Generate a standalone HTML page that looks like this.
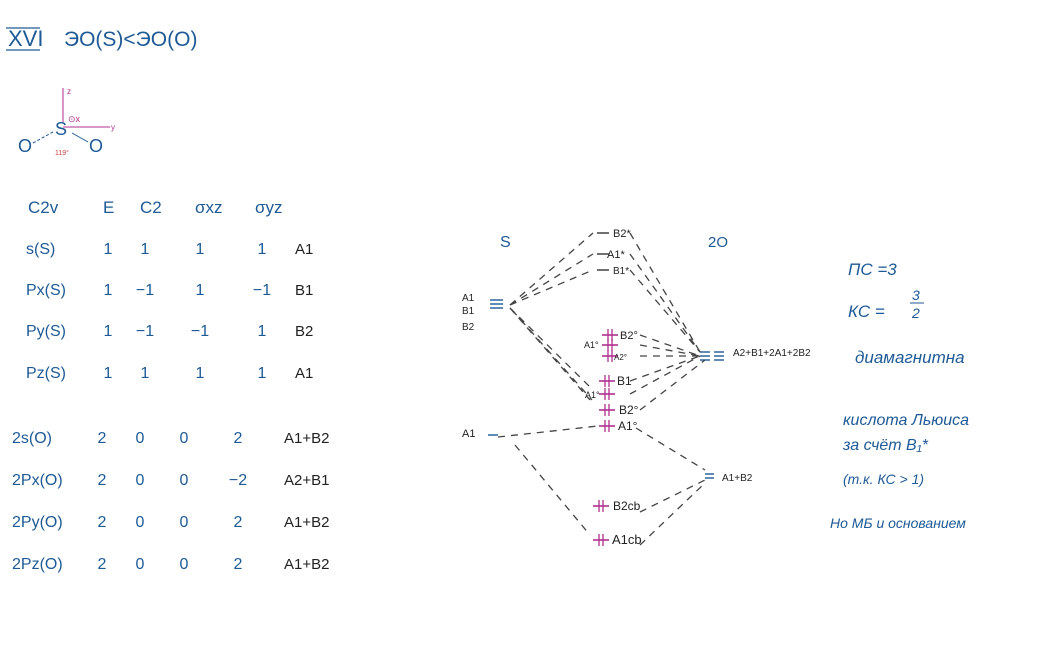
<!DOCTYPE html>
<html><head><meta charset="utf-8"><style>
html,body{margin:0;padding:0;background:#fff;}
svg{display:block;}
text{font-family:"Liberation Sans","DejaVu Sans",sans-serif;}
.b{fill:#1d5a96;}
.k{fill:#222;}
.m{fill:#b0308f;}
.d{stroke:#444;stroke-width:1.3;stroke-dasharray:7,6;fill:none;}
</style></head><body>
<svg id="s" width="1055" height="647" viewBox="0 0 1055 647" xmlns="http://www.w3.org/2000/svg">
<g>
<text x="8" y="46" class="b" font-size="22">XVI</text>
<line x1="6" y1="28" x2="40" y2="28" stroke="#1d5a96" stroke-width="1.3"/>
<line x1="6" y1="50" x2="40" y2="50" stroke="#1d5a96" stroke-width="1.3"/>
<text x="64" y="46" class="b" font-size="21">ЭO(S)&lt;ЭO(O)</text>
</g>
<g>
<line x1="63" y1="122" x2="63" y2="88" stroke="#b0308f" stroke-width="1"/>
<text x="67" y="94" class="m" font-size="8">z</text>
<line x1="63" y1="127" x2="110" y2="127" stroke="#b0308f" stroke-width="1"/>
<text x="111" y="130" class="m" font-size="8">y</text>
<text x="68" y="122" class="m" font-size="9">⊙x</text>
<text x="55" y="135" class="b" font-size="18">S</text>
<text x="18" y="152" class="b" font-size="18">O</text>
<text x="89" y="152" class="b" font-size="18">O</text>
<line x1="33" y1="143" x2="53" y2="132" stroke="#1d5a96" stroke-width="1" stroke-dasharray="3,2"/>
<line x1="72" y1="133" x2="88" y2="142" stroke="#1d5a96" stroke-width="1"/>
<text x="55" y="155" fill="#d04040" font-size="7">119°</text>
</g>
<g id="tbl"></g>
<g id="mo"></g>
<g font-style="italic">
<text x="848" y="275" class="b" font-size="17">ПС =3</text>
<text x="848" y="317" class="b" font-size="17">КС =</text>
<text x="912" y="300" class="b" font-size="14">3</text>
<line x1="910" y1="303" x2="924" y2="303" stroke="#1d5a96"/>
<text x="912" y="318" class="b" font-size="14">2</text>
<text x="855" y="363" class="b" font-size="17">диамагнитна</text>
<text x="843" y="425" class="b" font-size="16">кислота Льюиса</text>
<text x="843" y="450" class="b" font-size="16">за счёт  B₁*</text>
<text x="843" y="484" class="b" font-size="14">(т.к. КС &gt; 1)</text>
<text x="830" y="528" class="b" font-size="14">Но МБ и основанием</text>
</g>
</svg>
<script>
const NS="http://www.w3.org/2000/svg";
const headers=["C2v","E","C2","σxz","σyz"];
const sRows=["s(S)","Px(S)","Py(S)","Pz(S)"];
const sVals=[["1","1","1","1"],["1","−1","1","−1"],["1","−1","−1","1"],["1","1","1","1"]];
const sIrr=["A1","B1","B2","A1"];
const oRows=["2s(O)","2Px(O)","2Py(O)","2Pz(O)"];
const oVals=[["2","0","0","2"],["2","0","0","−2"],["2","0","0","2"],["2","0","0","2"]];
const oIrr=["A1+B2","A2+B1","A1+B2","A1+B2"];
function t(g,x,y,s,cls,fs,anchor){const e=document.createElementNS(NS,"text");e.setAttribute("x",x);e.setAttribute("y",y);e.setAttribute("class",cls);e.setAttribute("font-size",fs);if(anchor)e.setAttribute("text-anchor",anchor);e.textContent=s;g.appendChild(e);return e;}
const tb=document.getElementById("tbl");
const hx=[28,103,140,195,255];
headers.forEach((h,i)=>{const e=t(tb,hx[i],213,h,"b",17);

});
const sx=[108,145,200,262],sy=[254,295,336,378];
sRows.forEach((r,i)=>{t(tb,26,sy[i],r,"b",16);sVals[i].forEach((v,j)=>t(tb,sx[j],sy[i],v,"b",16,"middle"));t(tb,295,sy[i],sIrr[i],"k",15);});
const ox=[102,140,184,238],oy=[443,485,527,569];
oRows.forEach((r,i)=>{t(tb,12,oy[i],r,"b",16);oVals[i].forEach((v,j)=>t(tb,ox[j],oy[i],v,"b",16,"middle"));t(tb,284,oy[i],oIrr[i],"k",15);});
const mo=document.getElementById("mo");
t(mo,500,247,"S","b",16);t(mo,708,247,"2O","b",15);
t(mo,462,301,"A1","k",10);t(mo,462,314,"B1","k",10);t(mo,462,330,"B2","k",10);
t(mo,462,437,"A1","k",11);
function ln(x1,y1,x2,y2,c,w){const e=document.createElementNS(NS,"line");e.setAttribute("x1",x1);e.setAttribute("y1",y1);e.setAttribute("x2",x2);e.setAttribute("y2",y2);e.setAttribute("stroke",c);e.setAttribute("stroke-width",w||1.4);mo.appendChild(e);}
[300,304,308].forEach(y=>ln(490,y,503,y,"#1d5a96"));
ln(488,435,498,435,"#1d5a96");
[352,356,360].forEach(y=>{ln(700,y,710,y,"#1d5a96");ln(714,y,724,y,"#1d5a96");});
[474,478].forEach(y=>ln(705,y,714,y,"#1d5a96"));
t(mo,733,356,"A2+B1+2A1+2B2","k",10);t(mo,722,481,"A1+B2","k",10);
// [label, x, y, labelX, filled, fontSize]
const lv=[["B2*",597,233,613,false,11],["A1*",597,254,607,false,11],["B1*",597,270,613,false,10],["B2°",602,335,620,true,11],["",602,345,null,true,9],["A2°",602,356,614,true,8],["B1",599,381,617,true,12],["",599,394,null,true,9],["B2°",599,410,619,true,12],["A1°",599,426,618,true,12],["B2cb",593,506,613,true,12],["A1cb",593,540,612,true,13]];
lv.forEach(l=>{if(l[4]){ln(l[1],l[2],l[1]+16,l[2],"#b0308f",1.6);ln(l[1]+6,l[2]-6,l[1]+6,l[2]+6,"#b0308f",1.3);ln(l[1]+10,l[2]-6,l[1]+10,l[2]+6,"#b0308f",1.3);}else ln(l[1],l[2],l[1]+12,l[2],"#333",1.4);if(l[3])t(mo,l[3],l[2]+4,l[0],"k",l[5]);});
t(mo,584,348,"A1°","k",9);t(mo,585,398,"A1°","k",9);
function dl(pts){const p=document.createElementNS(NS,"polyline");p.setAttribute("points",pts);p.setAttribute("class","d");mo.appendChild(p);}
[[233,608],[254,608],[270,608]].forEach(a=>{dl(`510,305 ${a[1]-15},${a[0]}`);dl(`${a[1]+22},${a[0]} 700,352`);});
[[381,598],[394,598]].forEach(a=>{dl(`510,308 ${a[1]-8},${a[0]+6}`);dl(`${a[1]+32},${a[0]} 700,356`);});
dl("512,310 592,400");
[335,345,356].forEach(y=>dl(`640,${y} 700,356`));
dl("640,410 705,360");
dl("498,437 598,426");dl("636,428 705,470");
dl("515,445 590,535");dl("640,512 705,480");dl("640,545 705,483");
</script>
</body></html>
